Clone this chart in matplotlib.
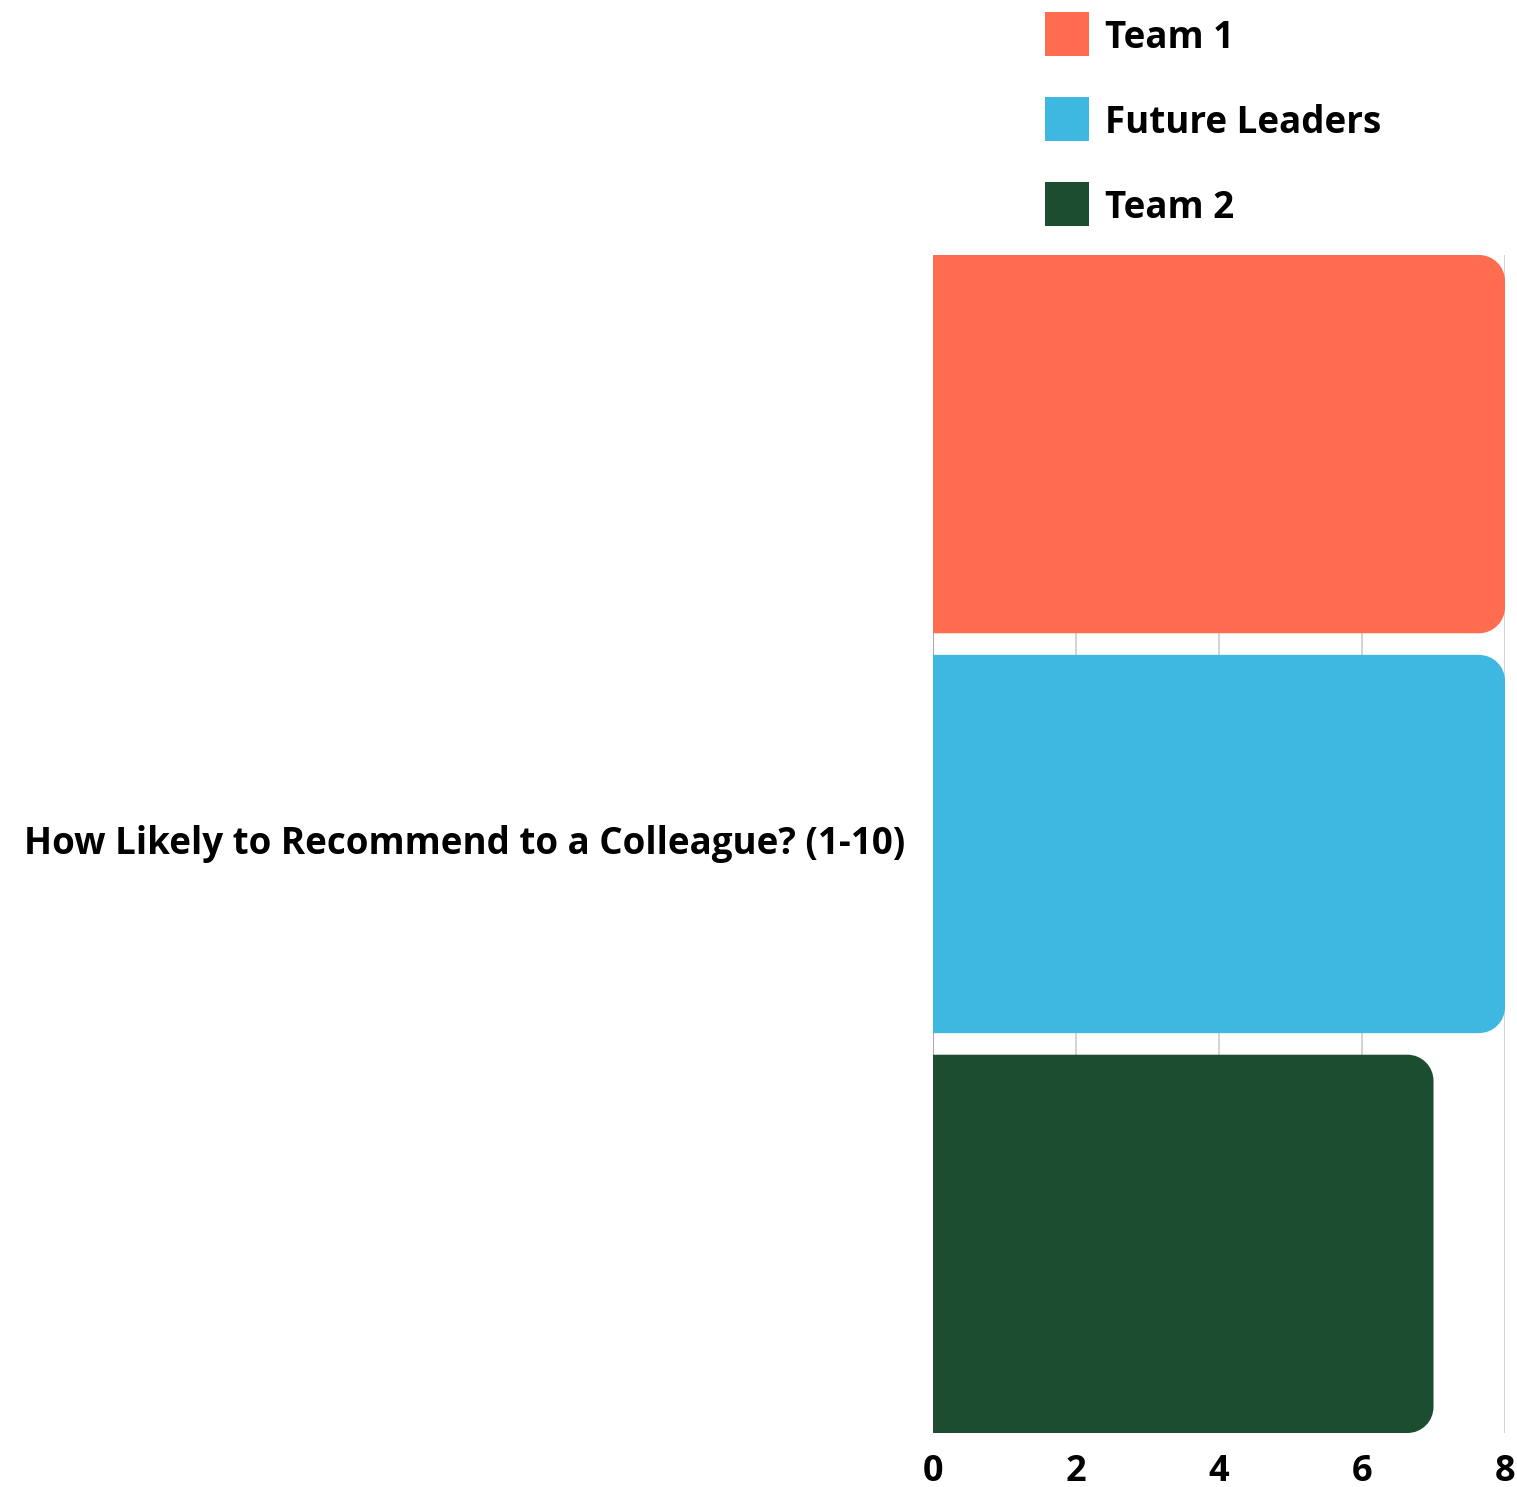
import matplotlib
matplotlib.use("Agg")
import matplotlib.pyplot as plt
from matplotlib.path import Path
from matplotlib.patches import PathPatch, Rectangle

plt.rcParams['font.family'] = ['Open Sans', 'DejaVu Sans']
plt.rcParams['font.weight'] = 'bold'

category = "How Likely to Recommend to a Colleague? (1-10)"
series = ["Team 1", "Future Leaders", "Team 2"]
values = [8, 8, 7]
colors = ["#FF6C4F", "#3EB8E1", "#1C4D30"]
xticks = [0, 2, 4, 6, 8]

W, H = 1517, 1487
fig = plt.figure(figsize=(W / 100, H / 100), dpi=100)
left, right, top, bottom = 933, 1505, 255, 1433
ax = fig.add_axes([left / W, 1 - bottom / H, (right - left) / W, (bottom - top) / H])

bar_h = 0.946
pos = list(range(len(series)))
ax.set_xlim(0, 8)
ax.set_ylim(len(series) - 1 + bar_h / 2, -bar_h / 2)

px_per_x = (right - left) / 8.0
px_per_y = (bottom - top) / (len(series) - 1 + bar_h)
r_px = 26
rx = r_px / px_per_x
ry = r_px / px_per_y
k = 0.5523

bars = ax.barh(pos, values, height=bar_h, color=colors)
for b, c in zip(bars, colors):
    x0, y0 = b.get_x(), b.get_y()
    w, h = b.get_width(), b.get_height()
    x1, y1 = x0 + w, y0 + h
    verts = [
        (x0, y0), (x1 - rx, y0),
        (x1 - rx + k * rx, y0), (x1, y0 + ry - k * ry), (x1, y0 + ry),
        (x1, y1 - ry),
        (x1, y1 - ry + k * ry), (x1 - rx + k * rx, y1), (x1 - rx, y1),
        (x0, y1), (x0, y0),
    ]
    codes = [Path.MOVETO, Path.LINETO,
             Path.CURVE4, Path.CURVE4, Path.CURVE4,
             Path.LINETO,
             Path.CURVE4, Path.CURVE4, Path.CURVE4,
             Path.LINETO, Path.CLOSEPOLY]
    ax.add_patch(PathPatch(Path(verts, codes), facecolor=c, edgecolor='none', zorder=3))
    b.set_visible(False)

for xt in xticks:
    ax.axvline(xt, color="#999999" if xt == 0 else "#cccccc", lw=1.2, zorder=1)

ax.set_xticks(xticks)
ax.set_xticklabels([str(t) for t in xticks], fontsize=26, fontweight='bold')
ax.tick_params(axis='x', length=0, pad=15)
ax.set_yticks([])
for s in ax.spines.values():
    s.set_visible(False)

fig.text(905 / W, 1 - 844 / H, category, ha='right', va='center',
         fontsize=26.5, fontweight='bold', color='black')

leg_y = [34, 119, 204]
for name, c, yc in zip(series, colors, leg_y):
    fig.add_artist(Rectangle((1045 / W, 1 - (yc + 22) / H), 44 / W, 44 / H,
                             transform=fig.transFigure, facecolor=c, edgecolor='none'))
    fig.text(1105 / W, 1 - (yc + 4) / H, name, ha='left', va='center',
             fontsize=26.5, fontweight='bold', color='black')

fig.savefig("out.png", dpi=100, facecolor='white')
